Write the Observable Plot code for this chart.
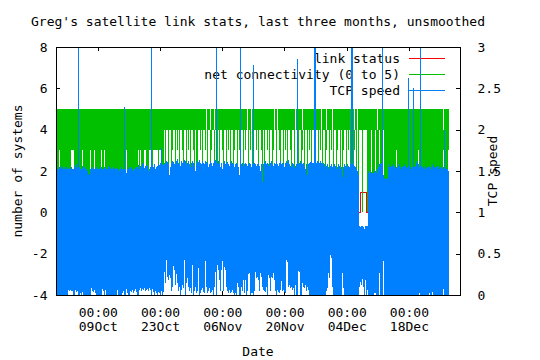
<!DOCTYPE html>
<html><head><meta charset="utf-8">
<script src="https://cdn.jsdelivr.net/npm/d3@7"></script>
<script src="https://cdn.jsdelivr.net/npm/@observablehq/plot@0.6"></script>
<style>
body{margin:0;background:#fff;}
#wrap{position:relative;width:540px;height:360px;background:#fff;font-family:"DejaVu Sans Mono",monospace;}
#under{position:absolute;left:0;top:0;}
#title{position:absolute;left:0;width:516px;top:15px;text-align:center;font-size:13px;line-height:13px;color:#000;white-space:pre;}
#chart{position:absolute;left:0;top:30px;}
</style></head><body>
<div id="wrap"><svg id="under" width="540" height="360"></svg><div id="title">Greg's satellite link stats, last three months, unsmoothed</div><div id="chart"></div></div>
<script>
// ---- axes / categories ----
const xDomain = [Date.UTC(2008,8,29,14,17), Date.UTC(2008,11,29,11,53)];
const xTickDates = [Date.UTC(2008,9,9), Date.UTC(2008,9,23), Date.UTC(2008,10,6), Date.UTC(2008,10,20), Date.UTC(2008,11,4), Date.UTC(2008,11,18)];
const yTicks = [-4,-2,0,2,4,6,8];
const legendLabels = ["link status", "net connectivity (0 to 5)", "TCP speed"];
const seriesColors = ["#ff0000", "#00c000", "#0080ff"]; // link, net, tcp
// one sample per 5.4 h, first sample time:
const dataStart = Date.UTC(2008,8,29,22,23);
const binHours = 5.4;

// link status change points (step-after)
const linkTimes = [Date.UTC(2008,8,29,22,23), Date.UTC(2008,11,6,23,53), Date.UTC(2008,11,8,8,17), Date.UTC(2008,11,26,21,47)];
const linkValues = [0, 1, 0, 0];

// net connectivity: per-sample max and min
const netHi = [
5,5,5,5,5,5,5,5,5,5, // 57
5,5,5,5,5,5,5,5,5,5, // 67
5,5,5,5,5,5,5,5,5,5, // 77
5,5,5,5,5,5,5,5,5,5, // 87
5,5,5,5,5,5,5,5,5,5, // 97
5,5,5,5,5,5,5,5,5,5, // 107
5,5,5,5,5,5,5,5,5,5, // 117
5,5,5,5,5,5,5,5,5,5, // 127
5,5,5,5,5,5,5,5,5,5, // 137
5,5,5,5,5,5,5,5,5,5, // 147
5,5,5,5,5,5,5,5,5,5, // 157
5,5,5,5,5,5,5,5,5,5, // 167
5,5,5,5,5,5,5,5,5,5, // 177
5,5,5,5,5,5,5,5,5,5, // 187
5,5,5,5,5,5,5,5,5,4, // 197
5,5,5,4,5,5,5,4,5,5, // 207
5,5,5,5,5,5,5,5,5,5, // 217
5,5,5,5,5,5,5,5,5,5, // 227
5,5,5,5,5,5,5,5,5,5, // 237
4,5,5,5,4,5,5,5,5,5, // 247
5,5,5,5,5,5,5,5,5,5, // 257
5,5,5,5,5,5,5,4,5,5, // 267
4,5,5,5,5,5,5,5,5,5, // 277
5,5,5,5,5,5,5,5,4,5, // 287
5,5,5,5,5,4,5,5,5,5, // 297
5,5,5,5,5,5,5,5,5,5, // 307
5,5,5,5,4,5,5,5,5,4, // 317
5,5,5,5,5,4,5,5,5,5, // 327
5,5,5,5,5,5,5,5,5,5, // 337
5,5,5,5,5,5,5,4,5,5, // 347
4,5,5,5,5,5,5,5,5,5, // 357
5,5,5,5,5,5,5,5,5,5, // 367
4,5,5,5,5,5,5,5,5,5, // 377
5,5,5,5,5,5,5,5,5,5, // 387
5,5,5,5,5,5,5,5,5,5, // 397
5,5,5,5,5,5,5,5,5,5, // 407
5,5,5,5,5,5,5,5,5,5, // 417
5,5,5,5,5,5,5,5,5,5, // 427
5,5,5,5,5,5,4,5,5,5, // 437
5,5];               // 447
const netLo = [
1,1,3,1,1,1,1,1,1,1, 1,1,1,1,3,3,3,1,1,1, 1,1,1,1,1,3,1,1,1,1, 1,1,1,3,1,1,1,3,1,1,
1,1,1,1,3,1,1,3,1,1, 1,1,1,1,1,1,1,1,1,1, 1,1,1,1,1,1,1,1,1,3, 1,1,1,1,1,1,1,1,1,1,
1,3,1,3,1,1,1,3,3,1, 1,1,3,3,3,1,3,3,3,3, 3,1,3,3,1,1,1,4,1,4, 4,1,4,4,1,3,4,4,1,4,
3,4,1,4,4,3,1,4,4,1, 4,3,4,1,4,4,3,1,4,1, 1,4,4,3,4,1,4,4,3,4, 1,4,4,1,3,4,4,1,4,3,
1,4,1,4,4,3,1,4,4,1, 4,3,4,1,4,4,1,3,4,4, 1,4,3,1,4,4,1,4,3,4, 4,1,4,3,4,1,1,4,4,3,
4,1,4,4,3,1,4,1,4,4, 3,4,1,4,4,1,3,4,4,1, 4,4,3,1,4,4,1,4,3,4, 1,4,4,3,1,4,4,1,4,4,
3,1,4,4,1,3,4,1,4,4, 1,4,3,4,1,4,4,3,1,4, 4,1,4,3,4,1,4,4,1,3, 4,4,1,4,3,4,1,4,4,1,
3,4,4,1,4,1,3,4,4,1, 4,3,4,1,4,4,1,3,4,1, 4,1,4,4,4,0,4,4,4,4, 0,1,1,1,4,1,1,1,4,1,
1,1,4,1,1,1,4,1,1,1, 1,1,1,1,1,1,1,1,1,3, 1,1,1,1,1,1,1,1,1,1, 1,1,1,1,1,1,1,1,1,1,
1,3,1,1,1,1,1,1,1,1, 1,1,1,1,1,1,1,1,1,1, 1,1,1,1,1,1,3,1,1,1, 1,3];

// TCP speed: per-sample max and min
const tcpHi = [
1.53,1.53,1.55,1.56,1.54,1.55,1.53,1.52,1.55,1.55, 1.53,1.54,1.52,1.53,1.55,1.53,1.52,1.55,1.57,1.54,
1.58,3.2,1.55,1.53,1.52,1.56,1.54,1.55,1.53,1.52, 1.50,1.46,1.45,1.52,1.54,1.55,1.53,1.52,1.54,1.53,
1.55,1.53,1.52,1.54,1.55,1.52,1.53,1.55,1.54,1.52, 1.53,1.55,1.56,1.54,1.53,1.52,1.55,1.54,1.52,1.53,
1.54,1.52,1.50,1.53,1.55,1.52,1.53,2.28,1.52,1.48, 1.52,1.55,1.53,1.54,1.55,1.52,1.50,1.53,1.54,1.55,
1.55,1.57,1.53,1.56,1.55,1.58,1.60,1.54,1.56,1.57, 1.56,1.50,1.52,1.55,3.2,1.57,1.55,1.58,1.52,1.55,
1.56,1.58,1.57,1.60,1.78,1.59,1.57,1.60,1.58,1.62, 1.61,1.58,1.45,1.55,1.60,1.62,1.61,1.58,1.60,1.62,
1.64,1.60,1.58,1.56,1.62,1.60,1.61,1.63,1.62,1.58, 1.60,1.62,1.58,1.55,1.60,1.62,1.60,1.56,1.50,1.60,
1.62,1.61,1.63,1.60,1.58,1.62,1.60,1.58,1.62,1.61, 1.60,1.55,1.58,1.62,1.60,1.56,1.60,1.62,1.63,3.2,
1.60,1.62,1.58,1.55,1.60,1.52,1.60,1.62,1.58,1.60, 1.61,1.59,1.56,1.60,1.62,1.60,1.58,1.55,1.58,1.60,
1.58,1.55,1.45,3.2,1.58,1.60,1.56,1.58,1.60,1.58, 1.56,1.58,1.60,1.58,1.55,1.58,2.78,1.60,1.58,1.56,
1.58,1.60,1.56,1.50,1.58,1.37,1.58,1.60,1.62,1.58, 1.60,1.58,1.56,1.60,1.62,1.58,1.56,1.60,1.58,1.62,
1.58,1.56,1.60,1.62,1.58,1.60,1.58,1.55,1.60,1.62, 1.60,1.63,1.58,1.56,1.55,1.60,1.58,1.54,1.56,1.58,
2.85,1.58,1.60,1.62,1.60,1.58,1.60,1.56,1.52,1.58, 1.45,1.58,1.60,1.61,1.62,1.60,1.60,3.2,3.2,1.60,
1.62,1.61,1.60,1.62,1.60,1.58,1.60,1.58,1.55,1.56, 1.58,1.55,1.52,1.56,1.58,1.55,1.56,1.58,1.56,1.52,
1.55,1.58,1.56,1.52,1.55,1.43,1.55,1.58,1.56,1.55, 1.58,1.56,1.55,1.58,3.2,3.2,1.58,1.56,1.55,1.52,
1.50,1.45,0.83,0.82,0.83,0.83,0.82,0.80,0.83,0.83, 0.83,1.50,1.48,1.47,1.49,1.48,1.47,1.49,1.50,1.48,
1.52,1.55,1.58,1.60,1.58,3.2,1.45,1.40,1.42,1.40, 1.42,1.55,1.58,1.56,1.55,1.58,1.56,1.54,1.56,1.55,
1.54,1.56,1.58,1.55,1.53,1.56,1.55,1.58,1.56,1.54, 1.55,2.63,1.56,1.55,1.53,1.55,2.50,1.56,1.55,1.60,
1.62,1.58,1.55,3.2,1.56,1.54,1.55,1.53,1.56,1.55, 1.54,1.56,1.55,1.52,1.55,1.56,1.58,1.55,1.54,1.56,
1.55,1.53,1.56,1.54,1.55,1.52,1.55,2.0,1.54,1.53, 1.52,1.50];
const tcpLo = [
0,0,0,0,0,0,0,0,0,0, 0,0.06,0.05,0.06,0.05,0.05,0,0,0.06,0.04,
0.05,0,0,0.03,0,0.04,0,0,0,0, 0,0,0,0,0.08,0.05,0.04,0.06,0.03,0,
0,0,0,0,0,0.07,0.05,0,0.06,0, 0,0,0,0,0,0,0,0,0,0,
0.06,0,0,0,0,0.03,0.05,0,0,0.07, 0.03,0,0,0.05,0.04,0.06,0.03,0.05,0.07,0.04,
0,0,0.06,0.08,0.05,0.07,0.06,0.09,0.05,0.06, 0.07,0.05,0.08,0.06,0,0.07,0.04,0,0.05,0.03,
0,0.04,0.03,0,0.05,0,0.04,0.28,0.15,0.42, 0.22,0.18,0.24,0.2,0.05,0.1,0.35,0.3,0.12,0.25,
0.15,0.05,0.1,0,0.06,0.12,0.08,0.42,0,0.15, 0.2,0.1,0.05,0.08,0.03,0.36,0,0.05,0.1,0.03,
0.05,0.33,0,0.02,0.06,0.08,0.04,0.02,0.41,0.1, 0.03,0.05,0.08,0.02,0.04,0.06,0,0.1,0.28,0,
0.36,0.3,0.18,0.05,0.3,0.41,0.05,0.34,0.3,0.1, 0.05,0.03,0.06,0.02,0.04,0.06,0.03,0,0.02,0,
0.14,0.1,0,0,0.1,0.05,0.18,0.03,0.18,0, 0.05,0.25,0.27,0,0.03,0.02,0,0.05,0.28,0.2,
0.22,0.18,0.05,0.27,0.22,0.1,0.06,0.05,0.04,0.1, 0,0.24,0.2,0.05,0.22,0.2,0.27,0.18,0.05,0,
0.06,0.04,0.02,0.06,0.17,0.05,0.06,0.04,0.02,0.42, 0.4,0.1,0.12,0.08,0.1,0.06,0.08,0,0.12,0,
0,0.29,0.28,0,0,0.15,0.1,0.08,0.12,0.05, 0.1,0.06,0,0,0,0,0,0,0,0,
0,0,0,0,0,0,0,0,0,0.05, 0.08,0.27,0.2,0.48,0.45,0.1,0,0,0,0,
0,0,0,0,0,0.27,0.08,0,0,0, 0,0,0,0,0,0,0,0,0,0,
0,0,0.1,0.16,0.12,0.19,0.1,0,0.18,0, 0.06,0,0,0,0,0,0,0.03,0.02,0,
0,0,0.27,0,0,0,0.41,0,0,0, 0,0,0,0,0,0,0,0,0,0,
0,0,0,0,0,0,0,0,0,0, 0,0,0,0,0,0,0,0,0,0,
0,0,0.03,0,0,0,0,0,0,0, 0,0,0.03,0,0,0.04,0,0,0,0,
0,0,0,0,0,0,0.07,0,0,0, 0,0];

// ---- build tables ----
const binMs = binHours * 3600e3;
const rows = netHi.map((h, i) => ({
  x1: new Date(dataStart + (i - 0.5) * binMs),
  x2: new Date(dataStart + (i + 0.5) * binMs),
  netLo: netLo[i], netHi: h, tcpLo: tcpLo[i], tcpHi: tcpHi[i]
}));
const link = linkTimes.map((t, i) => ({t: new Date(t), v: linkValues[i]}));
const toLeft = v => Math.min(v, 3) * 4 - 4; // TCP speed (0..3) on left scale (-4..8)

const W = 540, H = 330, mL = 56, mR = 80, mT = 17, mB = 65, top0 = 30;
const frameW = W - mL - mR, frameH = H - mT - mB, tickLen = 4;

// ---- key and axis titles: drawn beneath the plot (the data overdraws the key, as in the original) ----
const under = d3.select("#under").style("font-family", "DejaVu Sans Mono, monospace").style("font-size", "13px");
const frameRight = mL + frameW, frameTop = top0 + mT, frameMidY = top0 + mT + frameH / 2;
legendLabels.forEach((lab, k) => {
  const y = Math.round(frameTop + 11 + k * 16);
  under.append("text").attr("x", frameRight - 60).attr("y", y + 0.5).attr("dy", "0.35em")
    .attr("text-anchor", "end").attr("fill", "#000").text(lab);
  under.append("line").attr("x1", frameRight - 51).attr("x2", frameRight - 15)
    .attr("y1", y + 0.5).attr("y2", y + 0.5).attr("stroke", seriesColors[k]).attr("stroke-width", 1);
});
under.append("text").attr("transform", `translate(17,${frameMidY}) rotate(-90)`)
  .attr("text-anchor", "middle").attr("dy", "0.35em").attr("fill", "#000").text("number of systems");
under.append("text").attr("transform", `translate(${W - 48},${frameMidY}) rotate(-90)`)
  .attr("text-anchor", "middle").attr("dy", "0.35em").attr("fill", "#000").text("TCP speed");
under.append("text").attr("x", mL + frameW / 2).attr("y", top0 + H - 9)
  .attr("text-anchor", "middle").attr("dy", "0.35em").attr("fill", "#000").text("Date");

const fmtT = d3.utcFormat("%H:%M"), fmtD = d3.utcFormat("%d%b");
const chart = Plot.plot({
  width: W, height: H,
  marginLeft: mL, marginRight: mR, marginTop: mT, marginBottom: mB,
  style: {fontFamily: "DejaVu Sans Mono, monospace", fontSize: "13px", background: "transparent", color: "black"},
  x: {type: "utc", domain: xDomain.map(d => new Date(d))},
  y: {domain: [-4, 8]},
  marks: [
    Plot.ruleX(xTickDates, {x: d => new Date(d), insetTop: frameH - tickLen, stroke: "black", shapeRendering: "crispEdges"}),
    Plot.ruleX(xTickDates, {x: d => new Date(d), insetBottom: frameH - tickLen, stroke: "black", shapeRendering: "crispEdges"}),
    Plot.ruleY(yTicks, {y: d => d, insetRight: frameW - tickLen, stroke: "black", shapeRendering: "crispEdges"}),
    Plot.ruleY(yTicks, {y: d => d, insetLeft: frameW - tickLen, stroke: "black", shapeRendering: "crispEdges"}),
    Plot.line(link, {x: "t", y: "v", stroke: seriesColors[0], strokeWidth: 1, curve: "step-after", shapeRendering: "crispEdges"}),
    Plot.rect(rows, {x1: "x1", x2: "x2", y1: "netLo", y2: "netHi", fill: seriesColors[1], inset: 0, shapeRendering: "crispEdges"}),
    Plot.rect(rows, {x1: "x1", x2: "x2", y1: d => toLeft(d.tcpLo), y2: d => toLeft(d.tcpHi), fill: seriesColors[2], inset: 0, shapeRendering: "crispEdges"}),
    Plot.axisX(xTickDates.map(d => new Date(d)), {anchor: "bottom", tickSize: 0, tickPadding: 11, label: null,
      tickFormat: d => fmtT(d) + "\n" + fmtD(d), lineHeight: 1.1}),
    Plot.axisY(yTicks, {anchor: "left", tickSize: 0, tickPadding: 9, label: null, tickFormat: d => String(d)}),
    Plot.axisY(yTicks, {anchor: "right", tickSize: 0, tickPadding: 17, label: null, tickFormat: d => String((d + 4) / 4), textAnchor: "start"}),
    Plot.frame({stroke: "black", shapeRendering: "crispEdges"})
  ]
});
document.getElementById("chart").appendChild(chart);
</script></body></html>
